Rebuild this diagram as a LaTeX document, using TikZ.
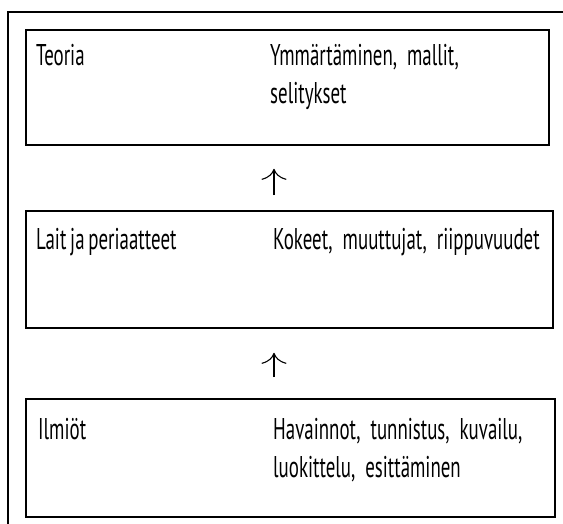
\documentclass[tikz,border=0pt]{standalone}
\usepackage{fontspec}
\setmainfont{PT Sans}[FakeStretch=0.63, WordSpace=0.75]
\usetikzlibrary{arrows.meta}
\begin{document}
\frenchspacing
\begin{tikzpicture}[x=1pt, y=-1pt,
	levelbox/.style={draw=black, line width=1.6pt, inner sep=0pt},
	lbl/.style={anchor=base west, inner sep=0pt, font=\fontsize{30}{38}\selectfont},
	desc/.style={lbl, text width=290pt, align=left},
	uparrow/.style={line width=1.1pt, -{Computer Modern Rightarrow[width=25pt,length=11pt]}}]
	\useasboundingbox (0,0) rectangle (563,523);
	\clip (0,0) rectangle (563,523);

	% outer frame
	\draw[line width=1.6pt] (8,12) rectangle (590,550);

	% levels
	\node[levelbox, minimum width=523pt, minimum height=115pt] (teoria) at (287.5,87.5) {};
	\node[levelbox, minimum width=527pt, minimum height=117pt] (lait) at (289.5,269.5) {};
	\node[levelbox, minimum width=529pt, minimum height=118pt] (ilmiot) at (290.5,458) {};

	% texts
	\node[lbl] (teoriaL) at (36,65) {Teoria};
	\node[desc] (teoriaR) at (270,65) {Ymmärtäminen, mallit,\\selitykset};
	\node[lbl] (laitL) at (36,249) {Lait ja periaatteet};
	\node[desc] (laitR) at (273,249) {Kokeet, muuttujat, riippuvuudet};
	\node[lbl] (ilmiotL) at (38,439) {Ilmiöt};
	\node[desc] (ilmiotR) at (273,439) {Havainnot, tunnistus, kuvailu,\\luokittelu, esittäminen};

	% arrows
	\coordinate (arrowx) at (274,0);
	\draw[uparrow, shorten <=15pt, shorten >=23pt] (lait.north -| arrowx) -- (teoria.south -| arrowx);
	\draw[uparrow, shorten <=21pt, shorten >=24pt] (ilmiot.north -| arrowx) -- (lait.south -| arrowx);

\end{tikzpicture}
\end{document}
